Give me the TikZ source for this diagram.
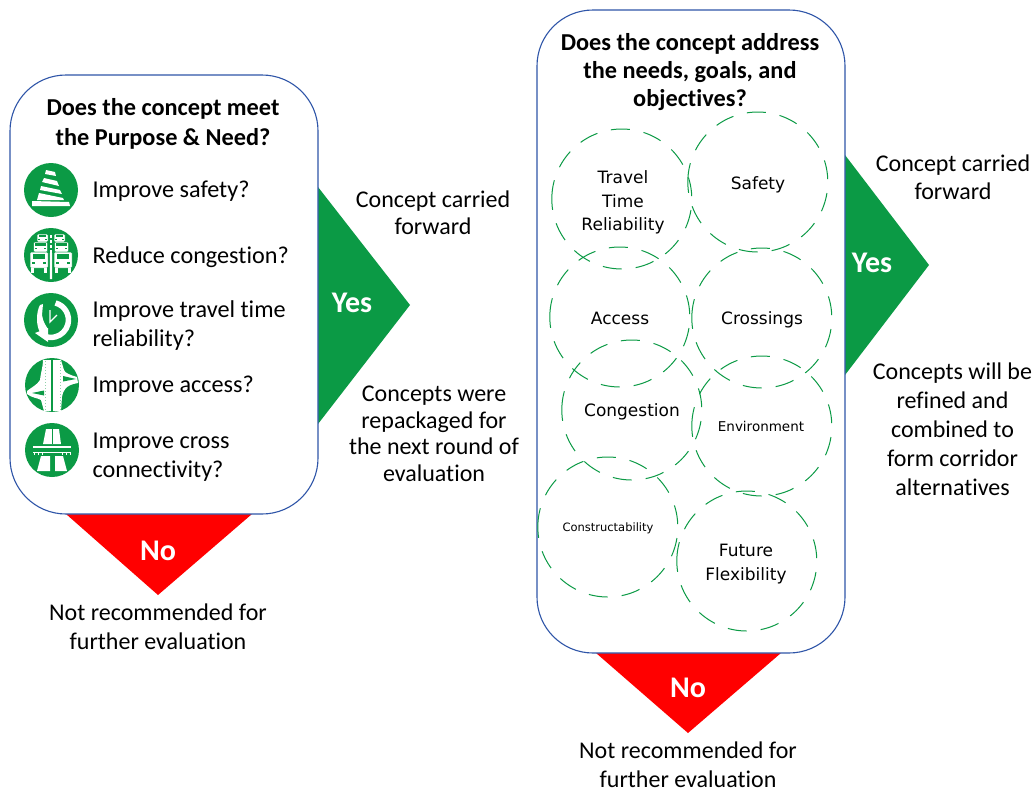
\documentclass[tikz,border=0pt]{standalone}
\usepackage{fontspec}
\setmainfont{Carlito}[Ligatures=NoCommon]
\newfontfamily\circfont{DejaVu Sans}
\definecolor{grn}{HTML}{0B9A45}
\definecolor{boxblue}{HTML}{2F55A8}
\tikzset{
  bigbox/.style={draw=boxblue,line width=1.1pt,fill=white,rounded corners=56pt},
  yestri/.style={fill=grn,draw=none},
  notri/.style={fill=red,draw=none},
  head/.style={font=\fontsize{24.3}{28.3}\selectfont\bfseries,align=center,text=black},
  lab/.style={font=\fontsize{24}{29}\selectfont,align=center,text=black,inner sep=0pt},
  item/.style={font=\fontsize{24.2}{29}\selectfont,align=left,anchor=west,text=black},
  verdict/.style={font=\fontsize{30}{32}\selectfont\bfseries,text=white},
  ringspot/.style={circle,minimum size=140pt,inner sep=0pt},
  ringline/.style={draw=grn,line width=1pt,dash pattern=on 19pt off 14pt},
  ringtext/.style={font=\circfont\fontsize{17}{23.5}\selectfont,align=center,text=black},
  disc/.style={circle,fill=grn,minimum size=54pt,inner sep=0pt},
  wh/.style={fill=white,draw=none},
}
\newcommand{\ringat}[1]{\draw[ringline] (#1.west) arc[start angle=180,delta angle=-360,radius=70pt];}
\newcommand{\carat}[4]{% cx, top, half width, height
  \fill[wh,rounded corners=1pt,draw=grn,line width=0.5pt] ({#1-#3},{#2}) rectangle ({#1+#3},{#2+#4});
  \fill[grn] ({#1-0.72*#3},{#2+0.14*#4}) rectangle ({#1+0.72*#3},{#2+0.42*#4});
  \fill[grn] ({#1-0.8*#3},{#2+0.6*#4}) rectangle ({#1-0.45*#3},{#2+0.72*#4});
  \fill[grn] ({#1+0.45*#3},{#2+0.6*#4}) rectangle ({#1+0.8*#3},{#2+0.72*#4});
}
\begin{document}
\begin{tikzpicture}[x=1pt,y=-1pt]
\useasboundingbox (0,0) rectangle (1035,790);
\fill[white] (0,0) rectangle (1035,790);
% triangles
\path[yestri] (318,187) -- (410,305) -- (318,424) -- cycle;
\path[yestri] (845,155) -- (929,265) -- (845,375) -- cycle;
\path[notri] (66,514) -- (252,514) -- (158,595) -- cycle;
\path[notri] (596,653) -- (781,653) -- (688,733) -- cycle;
% boxes
\node[bigbox,minimum width=308pt,minimum height=439pt,inner sep=0pt] (boxL) at (164,294.5) {};
\node[bigbox,minimum width=308pt,minimum height=643pt,inner sep=0pt] (boxR) at (691,331.5) {};
% headings
\node[head,font=\fontsize{24.3}{30}\selectfont\bfseries] (hL) at (163,124) {Does the concept meet\\the Purpose \& Need?};
\node[head] (hR) at (690,72) {Does the concept address\\the needs, goals, and\\objectives?};
% icons
\node[disc] (i1) at (51,190) {};
\node[disc] (i2) at (51,255) {};
\node[disc] (i3) at (51,320) {};
\node[disc] (i4) at (52,385) {};
\node[disc] (i5) at (52,450) {};
% cone
\begin{scope}[shift={(i1.center)}]
  \fill[wh] (-19,11) -- (18,12) -- (19,16) -- (-19,16) -- cycle;
  \fill[wh] (-5,-20) -- (4,-18) -- (5,-14) -- (-6,-16) -- cycle;
  \fill[wh] (-7,-12) -- (6,-9) -- (8,-4) -- (-9,-8) -- cycle;
  \fill[wh] (-10,-4) -- (9,0) -- (11,4) -- (-11,0) -- cycle;
  \fill[wh] (-12,3) -- (12,8) -- (13,10) -- (-14,10) -- cycle;
\end{scope}
% cars
\begin{scope}[shift={(i2.center)}]
  \fill[wh] (-1,-2) -- (1,-2) -- (1.2,24) -- (-1.2,24) -- cycle;
  \foreach \y in {-20,-15,-10,-5}{\fill[wh] (-0.8,\y) rectangle (0.8,\y+2.5);}
  \carat{-8.5}{-21}{5.5}{8}
  \carat{8.5}{-21}{5.5}{8}
  \carat{-10.5}{-13}{7}{10}
  \carat{10.5}{-13}{7}{10}
  \carat{-12}{-3}{9}{16}
  \carat{12}{-3}{9}{16}
  \foreach \x in {-20,-7,4,17}{\fill[wh] (\x,13) rectangle (\x+3,18);}
\end{scope}
% clock
\begin{scope}[shift={(i3.center)}]
  \draw[white,line width=5.5pt] (4.5,-17) arc[start angle=75,end angle=-112,radius=17.5pt];
  \fill[wh] (-16,13) -- (-3,8) -- (-3,22) -- cycle;
  \fill[wh] (-11,-15) -- (-8,-16) -- (-9,-5) .. controls (-8,2) and (-5,6) .. (-3,9) -- (-11,12) .. controls (-15,6) and (-15,-8) .. (-11,-15) -- cycle;
  \draw[white,line width=1.3pt] (-1,-10) -- (-1,2) -- (6,-5);
\end{scope}
% interchange
\begin{scope}[shift={(i4.center)}]
  \fill[wh] (-9,-25) .. controls (-9,-18) and (-11,-14) .. (-12,-5) .. controls (-15,0) and (-20,2) .. (-25,6) -- (-25,9)
     .. controls (-20,13) and (-14,13) .. (-11,15) -- (-8,26) -- (9,26) -- (10,12) .. controls (11,6) and (13,0) .. (26,-2) -- (25,-8)
     .. controls (18,-10) and (13,-12) .. (12,-15) -- (9,-25) -- cycle;
  \fill[grn] (-0.8,-27) rectangle (0.8,27);
  \fill[grn] (-8,5.5) -- (-8,10.5) -- (-20,8) -- cycle;
  \fill[grn] (11,-9) -- (11,-3.5) -- (24,-6) -- cycle;
  \draw[grn!45,line width=0.6pt,dash pattern=on 1pt off 2pt] (-7,-24) -- (-7,25);
  \draw[grn!45,line width=0.6pt,dash pattern=on 1pt off 2pt] (8,-24) -- (8,25);
\end{scope}
% motorway
\begin{scope}[shift={(i5.center)}]
  \fill[wh] (-6,-21) -- (7,-21) -- (9,-6) -- (-9,-6) -- cycle;
  \fill[grn] (0,-21) rectangle (1,-6);
  \fill[wh] (-11,6) -- (-2,6) -- (-2,21) -- (-15,21) -- cycle;
  \fill[wh] (3,6) -- (11,6) -- (15,21) -- (3,21) -- cycle;
  \fill[wh] (-19,-4) rectangle (19,-2.2);
  \fill[wh] (-19,1.5) rectangle (19,2.3);
  \foreach \x in {-18,-14,-10,10,14,18}{\fill[wh] (\x-0.4,2) rectangle (\x+0.4,5);}
\end{scope}
% items
\node[item] (t1) at (89,191.5) {Improve safety?};
\node[item] (t2) at (89,257) {Reduce congestion?};
\node[item] (t3) at (89,326) {Improve travel time\\reliability?};
\node[item] (t4) at (89,386.5) {Improve access?};
\node[item] (t5) at (89,457) {Improve cross\\connectivity?};
% labels
\node[lab,font=\fontsize{24}{26.5}\selectfont] (cL) at (433,213) {Concept carried\\forward};
\node[lab,font=\fontsize{24}{26.5}\selectfont] (rL) at (434,434) {Concepts were\\repackaged for\\the next round of\\evaluation};
\node[lab] (nL) at (158,627) {Not recommended for\\further evaluation};
\node[lab,font=\fontsize{24}{28}\selectfont] (cR) at (953,177) {Concept carried\\forward};
\node[lab] (rR) at (952.5,429) {Concepts will be\\refined and\\combined to\\form corridor\\alternatives};
\node[lab] (nR) at (688,765) {Not recommended for\\further evaluation};
\node[verdict] (yL) at (352,303) {Yes};
\node[verdict] (yR) at (872,263) {Yes};
\node[verdict] (noL) at (158,551) {No};
\node[verdict] (noR) at (688,688) {No};
% rings
\node[ringspot] (r1) at (622,199) {};
\node[ringspot] (r2) at (758,182) {};
\node[ringspot] (r3) at (620,317) {};
\node[ringspot] (r4) at (762,318) {};
\node[ringspot] (r5) at (632,410) {};
\node[ringspot] (r6) at (762,426) {};
\node[ringspot] (r7) at (608,527) {};
\node[ringspot] (r8) at (747,561) {};
\foreach \r in {r1,r2,r3,r4,r5,r6,r7,r8}{\ringat{\r}}
\node[ringtext] (l1) at (623,202.5) {Travel\\Time\\Reliability};
\node[ringtext] (l2) at (758,185) {Safety};
\node[ringtext] (l3) at (620,318) {Access};
\node[ringtext] (l4) at (762,320) {Crossings};
\node[ringtext] (l5) at (632,412) {Congestion};
\node[ringtext,font=\circfont\fontsize{13.5}{16}\selectfont] (l6) at (761,426) {Environment};
\node[ringtext,font=\circfont\fontsize{11.5}{14}\selectfont] (l7) at (608,528) {Constructability};
\node[ringtext] (l8) at (746,564) {Future\\Flexibility};
\end{tikzpicture}
\end{document}
